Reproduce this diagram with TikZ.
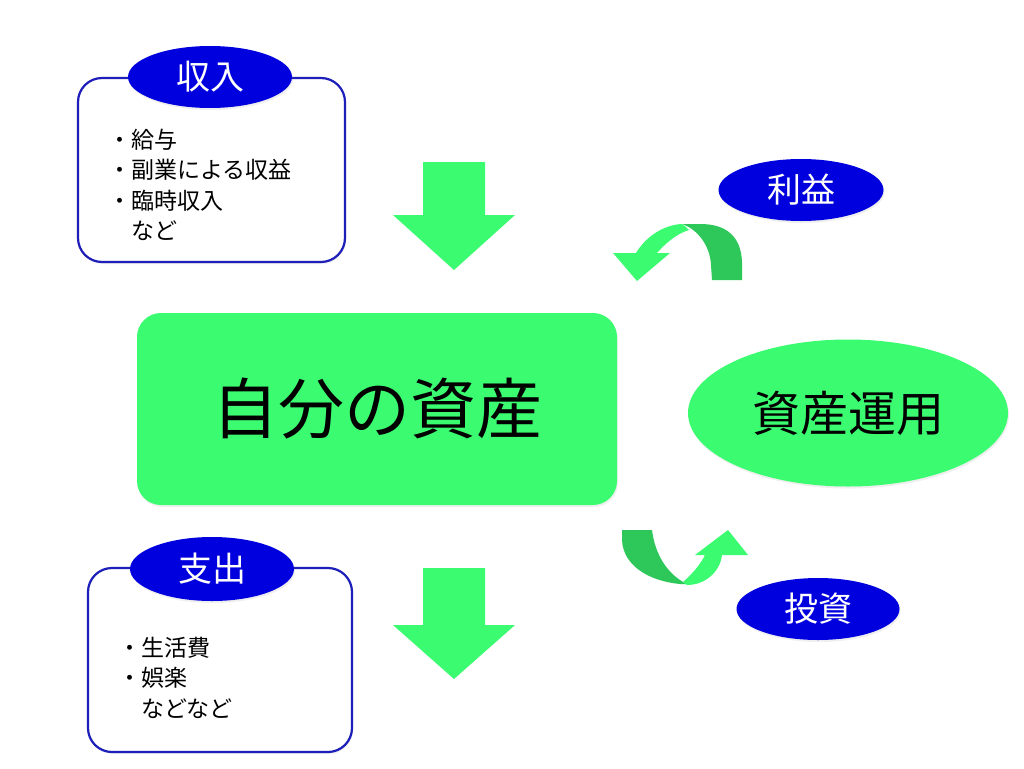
\documentclass[tikz,border=0pt]{standalone}
\usepackage{fontspec}
\setmainfont{Noto Sans CJK JP}
\usetikzlibrary{shapes.geometric,shadows}
\definecolor{lgreen}{RGB}{59,252,112}
\definecolor{dgreen}{RGB}{46,200,90}
\definecolor{eblue}{RGB}{0,0,222}
\definecolor{bblue}{RGB}{30,30,185}
\tikzset{
  fs/.style={font=\fontsize{#1}{#1}\selectfont},
  softshadow/.style={drop shadow={opacity=0.12, shadow xshift=1pt, shadow yshift=-2pt}},
  listbox/.style={draw=bblue, line width=2.2pt, fill=white, rounded corners=24pt, inner sep=0pt, softshadow},
  tagell/.style={ellipse, fill=eblue, text=white, inner sep=0pt, softshadow},
  greenell/.style={ellipse, fill=lgreen, inner sep=0pt, softshadow},
  listtext/.style={fs=23, align=left, anchor=north west, inner sep=0pt},
  blockarrow/.style={fill=lgreen, draw=none},
}
\begin{document}
\begin{tikzpicture}[x=1pt,y=-1pt]
\useasboundingbox (0,0) rectangle (1024,768);
\fill[white] (0,0) rectangle (1024,768);

% income box
\node[listbox, minimum width=267pt, minimum height=184pt] (inbox) at (211.5,170) {};
\node[tagell, minimum width=164pt, minimum height=62pt, fs=34] (intag) at (210,77) {収入};
\node[listtext] (inlist) at (108,128.5) {・給与\\[7.5pt]・副業による収益\\[7.5pt]・臨時収入\\[7.5pt]　など};

% expense box
\node[listbox, minimum width=264pt, minimum height=184pt] (exbox) at (220,660) {};
\node[tagell, minimum width=164pt, minimum height=64pt, fs=34] (extag) at (212,569) {支出};
\node[listtext] (exlist) at (118,636.5) {・生活費\\[7.5pt]・娯楽\\[7.5pt]　などなど};

% main asset box
\node[fill=lgreen, rounded corners=24pt, minimum width=480pt, minimum height=192pt, fs=66, inner sep=0pt, softshadow] (main) at (377,409) {自分の資産};

% asset management
\node[greenell, minimum width=320pt, minimum height=147pt, fs=48] (unyo) at (848,413) {資産運用};
\node[tagell, minimum width=165pt, minimum height=62pt, fs=34] (rieki) at (801,190) {利益};
\node[tagell, minimum width=163pt, minimum height=62pt, fs=34] (toshi) at (818,609) {投資};

% down arrows
\fill[blockarrow] (423,162) -- (485,162) -- (485,215) -- (515,215) -- (454,270) -- (393,215) -- (423,215) -- cycle;
\fill[blockarrow] (423,568) -- (485,568) -- (485,625) -- (515,625) -- (454,679) -- (393,625) -- (423,625) -- cycle;

% curved arrow top (profit back to assets)
\fill[dgreen] (742,280) -- (742,262) .. controls (741,236) and (726,224) .. (700,224) -- (682,224)
  .. controls (697,229) and (710,245) .. (711,265) -- (712,280) -- cycle;
\fill[lgreen] (682,224) .. controls (662,225) and (645,238) .. (636,253) -- (613,253) -- (637,281) -- (670,253) -- (657,253)
  .. controls (666,243) and (676,234) .. (689,230) .. controls (686,227) and (684,225) .. (682,224) -- cycle;

% curved arrow bottom (assets to investment)
\fill[dgreen] (622,530) -- (652,530) .. controls (655,555) and (668,575) .. (687,584) -- (680,584)
  .. controls (648,581) and (623,565) .. (622,540) -- cycle;
\fill[lgreen] (683,582) .. controls (693,573) and (700,565) .. (705,555) -- (695,555) -- (728,530) -- (748,555) -- (722,555)
  .. controls (720,572) and (705,585) .. (687,585) -- cycle;
\end{tikzpicture}
\end{document}
